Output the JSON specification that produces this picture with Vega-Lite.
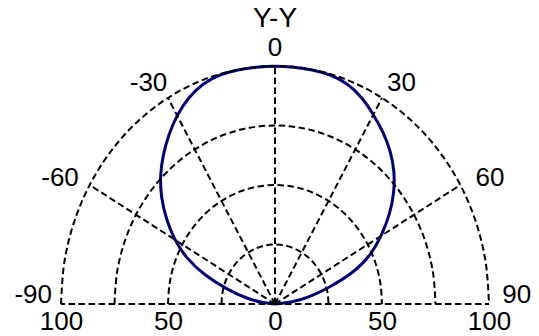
{
  "$schema": "https://vega.github.io/schema/vega-lite/v6.json",
  "width": 428,
  "height": 238,
  "autosize": {"type": "none"},
  "padding": {"left": 61, "top": 66, "right": 50, "bottom": 32},
  "title": {"text": "Y-Y", "fontSize": 28, "font": "Liberation Sans", "fontWeight": "normal", "color": "black", "anchor": "middle", "frame": "group", "offset": 2},
  "config": {"view": {"stroke": null}, "font": "Liberation Sans"},
  "datasets": {
    "pattern": [
      {"angle": -90, "r": 0}, {"angle": -85, "r": 6}, {"angle": -80, "r": 13.5}, {"angle": -75, "r": 22.5},
      {"angle": -70, "r": 35}, {"angle": -65, "r": 46}, {"angle": -60, "r": 54.5}, {"angle": -55, "r": 62},
      {"angle": -50, "r": 69.5}, {"angle": -45, "r": 76}, {"angle": -40, "r": 81.5}, {"angle": -35, "r": 86.8},
      {"angle": -30, "r": 91.7}, {"angle": -25, "r": 95.8}, {"angle": -20, "r": 98.7}, {"angle": -15, "r": 99.8},
      {"angle": -10, "r": 100}, {"angle": -5, "r": 100}, {"angle": 0, "r": 100}, {"angle": 5, "r": 100},
      {"angle": 10, "r": 100}, {"angle": 15, "r": 99.8}, {"angle": 20, "r": 98.8}, {"angle": 25, "r": 96},
      {"angle": 30, "r": 92}, {"angle": 35, "r": 88.2}, {"angle": 40, "r": 84}, {"angle": 45, "r": 79},
      {"angle": 50, "r": 72.7}, {"angle": 55, "r": 65.5}, {"angle": 60, "r": 57.5}, {"angle": 65, "r": 49.8},
      {"angle": 70, "r": 40}, {"angle": 75, "r": 26}, {"angle": 80, "r": 16}, {"angle": 85, "r": 8},
      {"angle": 90, "r": 0}
    ],
    "rings": [
      {"ring": 25, "angle": [-90, -80, -70, -60, -50, -40, -30, -20, -10, 0, 10, 20, 30, 40, 50, 60, 70, 80, 90]},
      {"ring": 50, "angle": [-90, -80, -70, -60, -50, -40, -30, -20, -10, 0, 10, 20, 30, 40, 50, 60, 70, 80, 90]},
      {"ring": 75, "angle": [-90, -80, -70, -60, -50, -40, -30, -20, -10, 0, 10, 20, 30, 40, 50, 60, 70, 80, 90]},
      {"ring": 100, "angle": [-90, -80, -70, -60, -50, -40, -30, -20, -10, 0, 10, 20, 30, 40, 50, 60, 70, 80, 90]}
    ],
    "spokes": [
      {"angle": -90, "label": "-90", "rr": [0, 100]}, {"angle": -60, "label": "-60", "rr": [0, 100]},
      {"angle": -30, "label": "-30", "rr": [0, 100]}, {"angle": 0, "label": "0", "rr": [0, 100]},
      {"angle": 30, "label": "30", "rr": [0, 100]}, {"angle": 60, "label": "60", "rr": [0, 100]},
      {"angle": 90, "label": "90", "rr": [0, 100]}
    ]
  },
  "layer": [
    {
      "data": {"name": "pattern"},
      "transform": [
        {"calculate": "datum.r * sin(datum.angle * PI / 180)", "as": "px"},
        {"calculate": "datum.r * cos(datum.angle * PI / 180)", "as": "py"}
      ],
      "mark": {"type": "line", "color": "#00007f", "strokeWidth": 3, "interpolate": "basis"},
      "encoding": {
        "x": {"field": "px", "type": "quantitative", "scale": {"domain": [-100, 100], "nice": false, "zero": false},
              "axis": {"values": [-100, -50, 0, 50, 100], "labelExpr": "'' + abs(datum.value)", "domain": false, "ticks": false, "tickSize": 0, "grid": false, "title": null,
                       "labelFontSize": 26, "labelFont": "Liberation Sans", "labelColor": "black", "labelPadding": 4, "labelFlush": false, "labelOverlap": false}},
        "y": {"field": "py", "type": "quantitative", "scale": {"domain": [0, 100], "nice": false}, "axis": null},
        "order": {"field": "angle", "type": "quantitative"}
      }
    },
    {
      "data": {"name": "rings"},
      "transform": [
        {"flatten": ["angle"]},
        {"calculate": "datum.ring * sin(datum.angle * PI / 180)", "as": "px"},
        {"calculate": "datum.ring * cos(datum.angle * PI / 180)", "as": "py"}
      ],
      "mark": {"type": "line", "color": "black", "strokeWidth": 2, "strokeDash": [6.5, 3.5], "interpolate": "catmull-rom"},
      "encoding": {
        "x": {"field": "px", "type": "quantitative"},
        "y": {"field": "py", "type": "quantitative"},
        "detail": {"field": "ring", "type": "nominal"},
        "order": {"field": "angle", "type": "quantitative"}
      }
    },
    {
      "data": {"name": "spokes"},
      "transform": [
        {"flatten": ["rr"]},
        {"calculate": "datum.rr * sin(datum.angle * PI / 180)", "as": "px"},
        {"calculate": "datum.rr * cos(datum.angle * PI / 180)", "as": "py"}
      ],
      "mark": {"type": "line", "color": "black", "strokeWidth": 2, "strokeDash": [6.5, 3.5]},
      "encoding": {
        "x": {"field": "px", "type": "quantitative"},
        "y": {"field": "py", "type": "quantitative"},
        "detail": {"field": "angle", "type": "nominal"},
        "order": {"field": "rr", "type": "quantitative"}
      }
    },
    {
      "data": {"name": "spokes"},
      "transform": [
        {"calculate": "113 * sin(datum.angle * PI / 180) + 3 * sin(datum.angle * PI / 90)", "as": "lx"},
        {"calculate": "104 * pow(abs(cos(datum.angle * PI / 180)), 1.08) + 3.7", "as": "ly"}
      ],
      "mark": {"type": "text", "fontSize": 26, "font": "Liberation Sans", "color": "black", "align": "center", "baseline": "middle"},
      "encoding": {
        "x": {"field": "lx", "type": "quantitative"},
        "y": {"field": "ly", "type": "quantitative"},
        "text": {"field": "label"}
      }
    }
  ]
}
